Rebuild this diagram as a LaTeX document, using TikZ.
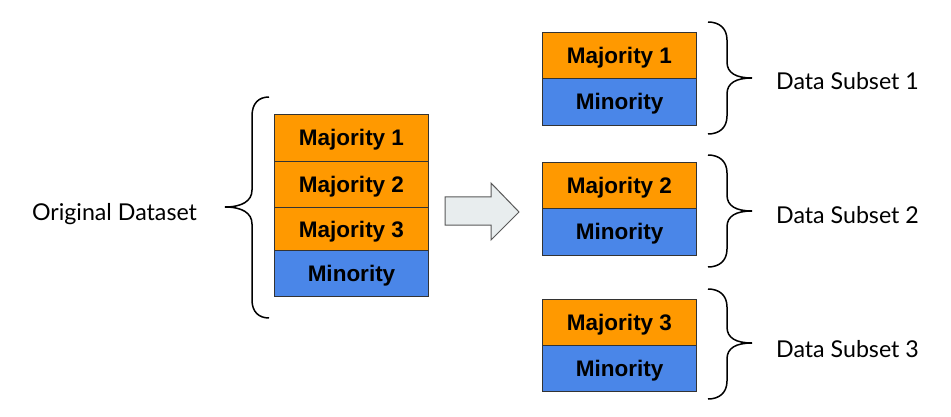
\documentclass[tikz,border=0pt]{standalone}
\usepackage{fontspec}
\setmainfont{Liberation Sans}
\newfontfamily\latofont{Lato}
\definecolor{majcol}{HTML}{FF9900}
\definecolor{mincol}{HTML}{4A86E8}
\definecolor{arrfill}{HTML}{E8EDEE}
\definecolor{arrline}{HTML}{595959}
\definecolor{boxline}{HTML}{333333}
\tikzset{
  cell/.style={draw=boxline, line width=1pt, minimum width=154pt, minimum height=46pt,
    inner sep=0pt, text height=16pt, text depth=0pt, font=\fontsize{22.5}{22.5}\selectfont\bfseries, anchor=north west},
  maj/.style={cell, fill=majcol},
  mino/.style={cell, fill=mincol},
  brace/.style={draw=black, line width=1.5pt},
  lbl/.style={font=\latofont\fontsize{23.2}{23.2}\selectfont, anchor=base, inner sep=0pt},
}
\begin{document}
\begin{tikzpicture}[x=1pt,y=-1pt]
\useasboundingbox (0,0) rectangle (951,417);
% left stack
\node[maj, minimum height=47pt] (m1) at (274,114) {Majority 1};
\node[maj] (m2) at (274,161) {Majority 2};
\node[maj, minimum height=43pt] (m3) at (274,207) {Majority 3};
\node[mino] (mi) at (274,250) {Minority};
% right stacks
\node[maj] (a1) at (542,32) {Majority 1};
\node[mino, minimum height=47pt] (b1) at (542,78) {Minority};
\node[maj] (a2) at (542,162) {Majority 2};
\node[mino, minimum height=47pt] (b2) at (542,208) {Minority};
\node[maj] (a3) at (542,299) {Majority 3};
\node[mino] (b3) at (542,345) {Minority};
% block arrow
\draw[draw=arrline, fill=arrfill, line width=1pt, line join=miter]
  (445,197) -- (491,197) -- (491,183) -- (519,212) -- (491,240) -- (491,225) -- (445,225) -- cycle;
% left brace
\draw[brace] (269,97) .. controls (259,97) and (252,103) .. (252,116) -- (252,190)
  .. controls (252,201) and (242,207) .. (225,207)
  .. controls (242,207) and (252,213) .. (252,224) -- (252,300)
  .. controls (252,312) and (259,318) .. (269,318);
% right braces
\foreach \t/\m/\b in {22/78/134, 155/211/267, 289/343/399}{
  \draw[brace] (708,\t) .. controls (719,\t) and (727,\t+6) .. (727,\t+18) -- (727,\m-16)
    .. controls (727,\m-5) and (736,\m) .. (752,\m)
    .. controls (736,\m) and (727,\m+5) .. (727,\m+16) -- (727,\b-18)
    .. controls (727,\b-6) and (719,\b) .. (708,\b);
}
% labels
\node[lbl] (orig) at (114.5,220) {Original Dataset};
\node[lbl] (s1) at (847.5,90) {Data Subset 1};
\node[lbl] (s2) at (847.5,223) {Data Subset 2};
\node[lbl] (s3) at (847.5,357) {Data Subset 3};
\end{tikzpicture}
\end{document}
